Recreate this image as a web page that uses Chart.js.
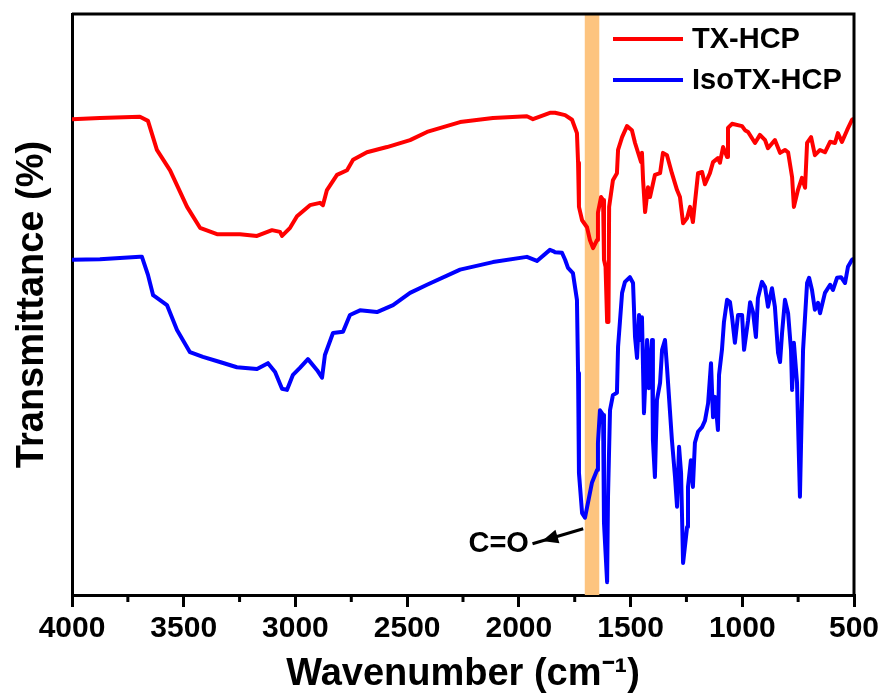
<!DOCTYPE html>
<html>
<head>
<meta charset="utf-8">
<script src="https://cdn.jsdelivr.net/npm/chart.js@4.4.1/dist/chart.umd.min.js"></script>
<style>
  html, body { margin: 0; background: #fff; }
  #wrap { width: 885px; height: 697px; }
</style>
</head>
<body>
<div id="wrap"><canvas id="ftir"></canvas></div>
<script>
// FTIR spectra, wavenumber (cm-1) vs transmittance (arbitrary offset, no y ticks)
const redName = "TX-HCP";
const redWn = [4000,3875,3696,3660,3620,3561,3485,3427,3351,3248,3172,3105,3069,3060,3024,2993,2935,2890,2877,2859,2814,2769,2742,2680,2590,2487,2411,2263,2116,1964,1937,1861,1838,1793,1762,1740,1735,1731,1717,1695,1682,1668,1650,1646,1632,1623,1619,1612,1605,1599,1596,1579,1561,1556,1538,1516,1494,1480,1467,1453,1449,1444,1435,1422,1413,1391,1368,1355,1337,1315,1292,1279,1265,1247,1234,1221,1212,1198,1180,1167,1145,1131,1109,1100,1086,1068,1064,1046,1001,988,974,943,921,898,885,854,831,809,795,777,769,751,733,719,710,692,675,652,630,607,585,572,554,531,509,502];
const redT = [81.9,82.1,82.3,81.6,76.6,73.1,66.8,63.2,62.1,62.1,61.8,62.8,62.5,61.8,63.2,65.2,67.1,67.5,67.1,69.7,72.3,73.1,74.9,76.2,77.1,78.3,79.7,81.4,82.1,82.4,81.9,83.0,83.0,82.6,81.8,79.5,74.4,66.8,64.5,63.3,61.1,59.7,61.1,65.8,68.5,68.0,57.7,56.5,47.0,47.0,66.8,71.4,72.6,76.6,78.8,80.7,80.0,77.8,76.2,74.5,76.1,71.4,65.9,70.2,68.5,72.3,72.6,76.1,75.7,72.6,69.7,68.5,64.0,64.9,66.8,64.2,67.5,72.6,72.8,70.7,72.6,74.5,75.2,74.4,77.1,75.4,80.4,81.1,80.7,80.0,79.7,77.8,79.2,78.3,76.9,78.3,76.1,76.6,76.2,71.9,66.8,69.7,71.8,70.1,77.8,78.8,75.7,76.6,76.2,78.0,77.8,79.5,78.0,80.0,81.8,82.0];

const blueName = "IsoTX-HCP";
const blueWn = [4000,3875,3696,3687,3660,3637,3575,3530,3472,3414,3338,3262,3172,3123,3091,3060,3038,3011,2980,2944,2903,2881,2868,2832,2787,2756,2711,2635,2563,2487,2411,2263,2116,1964,1919,1861,1847,1838,1807,1793,1780,1758,1740,1735,1731,1717,1704,1691,1673,1650,1646,1637,1623,1619,1605,1601,1592,1579,1561,1556,1538,1525,1503,1489,1480,1471,1462,1453,1449,1440,1426,1418,1404,1400,1391,1382,1368,1359,1346,1337,1324,1315,1301,1292,1283,1274,1265,1247,1243,1230,1221,1212,1198,1180,1167,1153,1140,1131,1122,1109,1104,1091,1082,1068,1055,1046,1033,1019,1001,992,974,965,952,939,930,912,898,885,867,854,840,831,822,809,795,782,777,769,755,742,728,710,701,688,675,661,652,630,607,594,576,558,540,527,509,502];
const blueT = [57.7,57.8,58.2,58.2,55.1,51.6,49.9,45.6,41.8,41.0,40.1,39.2,38.9,39.9,38.4,35.5,35.3,37.9,39.1,40.6,38.7,37.4,41.3,45.1,45.3,48.2,49.0,48.7,49.9,52.0,53.4,56.0,57.3,58.2,57.5,59.4,59.2,59.0,58.9,57.7,56.3,55.4,50.8,38.2,21.0,14.1,13.3,15.8,19.3,21.5,26.2,31.8,31.0,12.4,2.2,16.9,31.8,34.4,34.8,42.7,52.0,53.9,54.7,53.7,44.4,40.8,48.2,43.9,47.8,31.3,43.9,35.6,43.9,26.7,20.3,33.6,36.5,42.2,43.9,39.2,31.8,26.7,20.3,15.2,25.5,21.0,5.5,11.7,18.6,23.2,18.6,26.2,28.1,28.9,30.0,33.0,39.9,30.6,34.1,28.4,37.9,42.2,47.0,50.8,50.4,47.9,43.4,48.2,48.2,42.2,47.3,50.4,48.7,44.4,51.1,53.9,53.0,49.6,52.8,49.6,41.7,40.1,45.1,50.8,48.5,42.2,35.3,43.4,36.5,16.9,42.2,53.7,54.6,52.5,49.1,50.3,48.5,52.0,53.4,52.5,54.6,54.7,53.7,56.5,57.7,57.9];

const xTicks = [4000, 3500, 3000, 2500, 2000, 1500, 1000, 500];
const xMinor = [3750, 3250, 2750, 2250, 1750, 1250, 750];
const bandWn = [1705, 1640];           // highlighted C=O region
const coText = "C=O";
const coLabelAt = [1955, 8.8];         // wn, T (right edge of label)
const coArrow = [[1712, 11.4], [1896, 9.3]];

const FONT = "'Liberation Sans', Arial, sans-serif";
const toPts = (xs, ys) => xs.map((x, i) => ({ x, y: ys[i] }));

const band = {
  id: "band",
  beforeDatasetsDraw(chart) {
    const { ctx, chartArea: a, scales: { x } } = chart;
    const x1 = x.getPixelForValue(bandWn[0]);
    const x2 = x.getPixelForValue(bandWn[1]);
    ctx.save();
    ctx.fillStyle = "#fdc47f";
    ctx.fillRect(Math.min(x1, x2), a.top, Math.abs(x2 - x1), a.bottom - a.top);
    ctx.restore();
  }
};

const extras = {
  id: "extras",
  afterDraw(chart) {
    const { ctx, chartArea: a, scales: { x, y } } = chart;
    ctx.save();
    // top + right frame
    ctx.strokeStyle = "#000";
    ctx.lineWidth = 3;
    ctx.beginPath();
    ctx.moveTo(a.left, a.top);
    ctx.lineTo(a.right, a.top);
    ctx.lineTo(a.right, a.bottom);
    ctx.stroke();
    // minor ticks
    ctx.lineWidth = 3;
    xMinor.forEach(v => {
      const px = x.getPixelForValue(v);
      ctx.beginPath();
      ctx.moveTo(px, a.bottom);
      ctx.lineTo(px, a.bottom + 7);
      ctx.stroke();
    });
    // legend
    ctx.font = "bold 29px " + FONT;
    ctx.textBaseline = "middle";
    ctx.textAlign = "left";
    chart.data.datasets.forEach((ds, i) => {
      const ly = a.top + 25 + i * 41;
      ctx.strokeStyle = ds.borderColor;
      ctx.lineWidth = 4;
      ctx.beginPath();
      ctx.moveTo(a.right - 241, ly);
      ctx.lineTo(a.right - 171, ly);
      ctx.stroke();
      ctx.fillStyle = "#000";
      ctx.fillText(ds.label, a.right - 162, ly + 1);
    });
    // C=O annotation
    const p0 = [x.getPixelForValue(coArrow[0][0]), y.getPixelForValue(coArrow[0][1])];
    const p1 = [x.getPixelForValue(coArrow[1][0]), y.getPixelForValue(coArrow[1][1])];
    const ang = Math.atan2(p1[1] - p0[1], p1[0] - p0[0]);
    ctx.strokeStyle = "#000";
    ctx.fillStyle = "#000";
    ctx.lineWidth = 3;
    ctx.beginPath();
    ctx.moveTo(p0[0], p0[1]);
    ctx.lineTo(p1[0] + 10 * Math.cos(ang), p1[1] + 10 * Math.sin(ang));
    ctx.stroke();
    ctx.beginPath();
    ctx.moveTo(p1[0], p1[1]);
    ctx.lineTo(p1[0] - 16 * Math.cos(ang) + 7 * Math.sin(ang), p1[1] - 16 * Math.sin(ang) - 7 * Math.cos(ang));
    ctx.lineTo(p1[0] - 16 * Math.cos(ang) - 7 * Math.sin(ang), p1[1] - 16 * Math.sin(ang) + 7 * Math.cos(ang));
    ctx.closePath();
    ctx.fill();
    ctx.textAlign = "right";
    ctx.fillText(coText, x.getPixelForValue(coLabelAt[0]), y.getPixelForValue(coLabelAt[1]));
    ctx.restore();
  }
};

new Chart(document.getElementById("ftir"), {
  type: "line",
  data: {
    datasets: [
      { label: redName, data: toPts(redWn, redT), borderColor: "#ff0000", borderWidth: 4, pointRadius: 0, tension: 0, borderJoinStyle: "round", fill: false },
      { label: blueName, data: toPts(blueWn, blueT), borderColor: "#0000ff", borderWidth: 4, pointRadius: 0, tension: 0, borderJoinStyle: "round", fill: false }
    ]
  },
  options: {
    responsive: true,
    maintainAspectRatio: false,
    animation: false,
    layout: { padding: { top: 14, right: 31, left: 0, bottom: 0 } },
    plugins: { legend: { display: false }, tooltip: { enabled: false } },
    scales: {
      x: {
        type: "linear",
        reverse: true,
        min: 500,
        max: 4000,
        afterBuildTicks: s => { s.ticks = xTicks.map(v => ({ value: v })); },
        afterFit: s => { s.height = 102; },
        ticks: {
          color: "#000",
          padding: 4,
          maxRotation: 0,
          font: { family: FONT, size: 30, weight: "bold" },
          callback: v => String(v)
        },
        grid: { display: true, drawOnChartArea: false, drawTicks: true, tickLength: 12, lineWidth: 3, color: "#000" },
        border: { display: true, width: 3, color: "#000" },
        title: {
          display: true,
          text: "Wavenumber (cm\u207B\u00B9)",
          color: "#000",
          padding: { top: 0, bottom: 0 },
          font: { family: FONT, size: 38, weight: "bold" }
        }
      },
      y: {
        min: 0,
        max: 100,
        afterFit: s => { s.width = 72; },
        ticks: { display: false },
        grid: { display: false },
        border: { display: true, width: 3, color: "#000" },
        title: {
          display: true,
          text: "Transmittance (%)",
          color: "#000",
          padding: { top: 10, bottom: 0 },
          font: { family: FONT, size: 38, weight: "bold" }
        }
      }
    }
  },
  plugins: [band, extras]
});
</script>
</body>
</html>
